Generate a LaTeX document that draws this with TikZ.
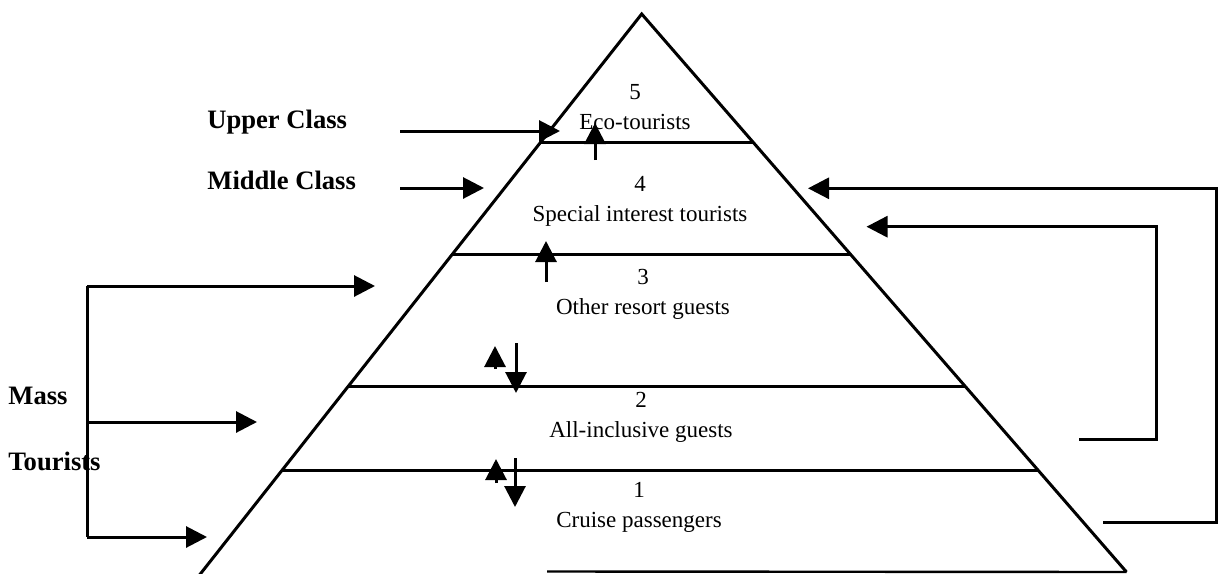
\documentclass[tikz,border=0pt]{standalone}
\usepackage{fontspec}
\setmainfont{Liberation Serif}
\usetikzlibrary{positioning}
\usetikzlibrary{arrows.meta}

\tikzset{
	tier/.style={font=\fontsize{11.5}{13}\selectfont, inner sep=1pt, text height=8pt, text depth=2.5pt},
	grp/.style={font=\fontsize{13.3}{15}\selectfont\bfseries, anchor=west, inner sep=0pt, text height=8.8pt, text depth=2.6pt},
	wall/.style={line width=1.5pt},
	flow/.style={line width=1.5pt, -{Triangle[length=10.5pt,width=10.5pt]}},
}

\begin{document}
\begin{tikzpicture}[x=0.5pt,y=-0.5pt]
	\useasboundingbox (0,0) rectangle (1220,573);
	% pyramid
	\coordinate (TOP) at (641.7,14);
	\coordinate (BL) at (199.5,575);
	\coordinate (BR) at (1126.5,572);
	\draw[wall] (BL) -- (TOP) -- (BR);
	\draw[wall] (540.8,142) -- (752.9,142);
	\draw[wall] (452.6,254) -- (850.3,254);
	\draw[wall] (348.2,386.5) -- (965.4,386.5);
	\draw[wall] (282.0,470.5) -- (1038.4,470.5);
	\coordinate (BS) at (547,571.5);
	\draw[line width=1.2pt] (BS) -- (BR);

	% tiers
	\node[tier] at (635,94) (N5) {5};
	\node[tier, below=2pt of N5] (T5) {Eco-tourists};
	\node[tier] at (640,186) (N4) {4};
	\node[tier, below=2pt of N4] (T4) {Special interest tourists};
	\node[tier] at (643,279) (N3) {3};
	\node[tier, below=2pt of N3] (T3) {Other resort guests};
	\node[tier] at (641,402) (N2) {2};
	\node[tier, below=2pt of N2] (T2) {All-inclusive guests};
	\node[tier] at (639,492) (N1) {1};
	\node[tier, below=2pt of N1] (T1) {Cruise passengers};

	% groups
	\node[grp] at (207,122) (UC) {Upper Class};
	\node[grp] at (207,183) (MC) {Middle Class};
	\node[grp] at (8,398) (MA) {Mass};
	\node[grp] at (8,464) (TO) {Tourists};

	\coordinate (UCs) at (400,131);
	\coordinate (UCe) at (560,131);
	\draw[flow] (UCs) -- (UCe);
	\coordinate (MCs) at (400,188);
	\coordinate (MCe) at (484,188);
	\draw[flow] (MCs) -- (MCe);

	% mass bracket
	\coordinate (MT) at (87,286);
	\coordinate (MM) at (87,422);
	\coordinate (MB) at (87,537);
	\coordinate (A3) at (375,286);
	\coordinate (A2) at (257,422);
	\coordinate (A1) at (207,537);
	\draw[wall] (MT) -- (MB);
	\draw[flow] (MT) -- (A3);
	\draw[flow] (MM) -- (A2);
	\draw[flow] (MB) -- (A1);

	% return brackets
	\coordinate (R1s) at (1103,522.7);
	\coordinate (R1c) at (1216.7,188.3);
	\coordinate (R1e) at (808,188.3);
	\draw[flow] (R1s) -| (R1c) -- (R1e);
	\coordinate (R2s) at (1079,439.3);
	\coordinate (R2c) at (1156,226.7);
	\coordinate (R2e) at (866.5,226.7);
	\draw[flow] (R2s) -| (R2c) -- (R2e);

	% moves between tiers
	\draw[flow] (595,160) -- (595,123);
	\draw[flow] (546,282) -- (546,241);
	\draw[flow] (495,369) -- (495,346);
	\draw[flow] (516,343) -- (516,393);
	\draw[flow] (496,483) -- (496,459);
	\draw[flow] (515,458) -- (515,507);
\end{tikzpicture}
\end{document}
